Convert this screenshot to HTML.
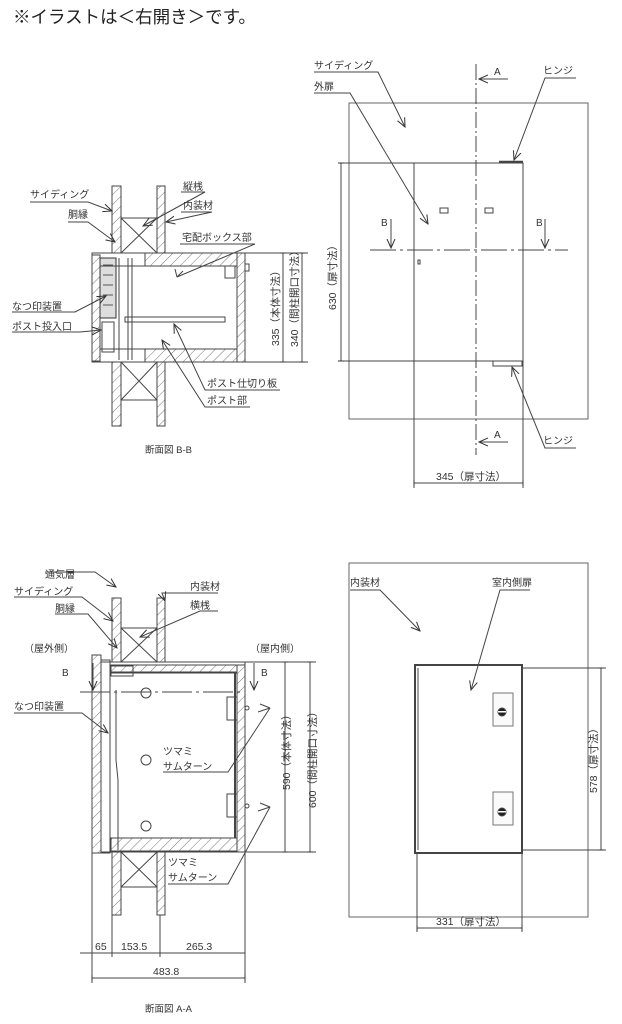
<!DOCTYPE html>
<html><head><meta charset="utf-8"><style>
html,body{margin:0;padding:0;background:#fff;}
svg{display:block}
text{font-family:"Liberation Sans","Noto Sans CJK JP",sans-serif;fill:#333;}
</style></head><body>
<svg width="622" height="1024" viewBox="0 0 622 1024" xmlns="http://www.w3.org/2000/svg">
<defs>
<pattern id="h" width="7" height="7" patternUnits="userSpaceOnUse" patternTransform="rotate(45)">
<rect width="7" height="7" fill="#fff"/><line x1="0" y1="0" x2="0" y2="7" stroke="#555" stroke-width="0.8"/></pattern>
<marker id="ar" markerWidth="10" markerHeight="10" refX="9" refY="5" orient="auto" markerUnits="userSpaceOnUse"><path d="M0,1 L9,5 L0,9" fill="none" stroke="#333" stroke-width="1"/></marker>
<marker id="tk" markerWidth="6" markerHeight="6" refX="3" refY="3" orient="auto" markerUnits="userSpaceOnUse"><line x1="3" y1="0" x2="3" y2="6" stroke="#333" stroke-width="1"/></marker>
</defs>
<text x="13" y="23" font-size="17.5" style="fill:#222">※イラストは＜右開き＞です。</text>

<g stroke="#444" stroke-width="1" fill="none" font-size="10">
<!-- ===== B-B section ===== -->
<rect x="112" y="186" width="9" height="240" fill="url(#h)"/>
<rect x="157" y="186" width="8" height="240" fill="url(#h)"/>
<rect x="121" y="218" width="36" height="35"/><path d="M121,218 L157,253 M157,218 L121,253"/>
<rect x="121" y="362" width="36" height="38"/><path d="M121,362 L157,400 M157,362 L121,400"/>
<rect x="92" y="253" width="153" height="109" fill="#fff"/>
<rect x="92" y="255" width="8" height="106" fill="url(#h)"/>
<rect x="145" y="253" width="92" height="13" fill="url(#h)"/>
<rect x="145" y="349" width="92" height="13" fill="url(#h)"/>
<rect x="237" y="253" width="8" height="109" fill="url(#h)"/>
<rect x="100" y="258" width="16" height="60" fill="#ddd" stroke="#333"/>
<path d="M103,265 h10 M103,275 h10 M103,285 h10 M103,295 h10 M103,305 h10" stroke="#555"/>
<rect x="102" y="322" width="12" height="30"/>
<line x1="119" y1="258" x2="119" y2="360"/><line x1="128" y1="258" x2="128" y2="360"/><line x1="132" y1="258" x2="132" y2="360"/>
<line x1="100" y1="266" x2="237" y2="266"/><line x1="100" y1="349" x2="237" y2="349"/>
<rect x="125" y="317" width="100" height="5"/>
<rect x="225" y="266" width="10" height="12"/>
<rect x="245" y="264" width="4" height="7"/>
<path d="M245,253 H308 M245,362 H308"/>
<line x1="283" y1="253" x2="283" y2="362" marker-start="url(#tk)" marker-end="url(#tk)"/>
<line x1="302" y1="253" x2="302" y2="362" marker-start="url(#tk)" marker-end="url(#tk)"/>
<path d="M30,202 H88 L112,211" marker-end="url(#ar)"/>
<path d="M68,222 H88 L115,242" marker-end="url(#ar)"/>
<path d="M181,192 H205 L143,226" marker-end="url(#ar)"/>
<path d="M181,212 H212 L166,222" marker-end="url(#ar)"/>
<path d="M180,244 H255 L177,277"/>
<path d="M12,312 H75 L106,296" marker-end="url(#ar)"/>
<path d="M12,332 H80 L101,330" marker-end="url(#ar)"/>
<path d="M280,390 H205 L174,324" marker-end="url(#ar)"/>
<path d="M250,407 H205 L162,340" marker-end="url(#ar)"/>
<path d="M177,277 l-2,-8 M177,277 l6,-6"/>
</g>
<g font-size="10">
<text x="30" y="198">サイディング</text><text x="68" y="218">胴縁</text>
<text x="183" y="190">縦桟</text><text x="183" y="209">内装材</text>
<text x="182" y="241">宅配ボックス部</text>
<text x="12" y="310">なつ印装置</text><text x="12" y="330">ポスト投入口</text>
<text x="207" y="387">ポスト仕切り板</text><text x="207" y="404">ポスト部</text>
<text x="145" y="453" font-size="9.5">断面図 B-B</text>
<text transform="translate(279,346) rotate(-90)" font-size="10.5">335（本体寸法）</text>
<text transform="translate(298,347) rotate(-90)" font-size="10.5">340（間柱開口寸法）</text>
</g>

<!-- ===== top-right elevation ===== -->
<g stroke="#444" stroke-width="1" fill="none">
<rect x="349" y="103" width="239" height="316" stroke="#666"/>
<rect x="414" y="163" width="109" height="198" fill="#fff"/>
<line x1="499" y1="162" x2="523" y2="162" stroke-width="2.5"/>
<rect x="493" y="361" width="29" height="5"/>
<path d="M476,64 V455" stroke-dasharray="16,3,2,3"/>
<path d="M370,250 H568" stroke-dasharray="26,4,3,4"/>
<line x1="508" y1="79" x2="479" y2="79" marker-end="url(#ar)"/>
<line x1="508" y1="442" x2="479" y2="442" marker-end="url(#ar)"/>
<line x1="391" y1="219" x2="391" y2="248" marker-end="url(#ar)"/>
<line x1="545" y1="219" x2="545" y2="248" marker-end="url(#ar)"/>
<rect x="440" y="208" width="8" height="5"/><rect x="485" y="208" width="8" height="5"/>
<rect x="418" y="260" width="2" height="4"/>
<path d="M338,163 H414 M338,361 H414"/>
<line x1="341" y1="163" x2="341" y2="361" marker-start="url(#tk)" marker-end="url(#tk)"/>
<path d="M414,361 V488 M523,361 V488"/>
<line x1="414" y1="483" x2="523" y2="483" marker-start="url(#tk)" marker-end="url(#tk)"/>
<path d="M314,72 H378 L405,127" marker-end="url(#ar)"/>
<path d="M314,93 H350 L428,224" marker-end="url(#ar)"/>
<path d="M576,78 H545 L514,160" marker-end="url(#ar)"/>
<path d="M576,448 H545 L512,367" marker-end="url(#ar)"/>
</g>
<g font-size="10">
<text x="314" y="69">サイディング</text><text x="314" y="90">外扉</text>
<text x="543" y="74">ヒンジ</text><text x="543" y="444">ヒンジ</text>
<text x="494" y="75">A</text><text x="494" y="438">A</text>
<text x="381" y="226">B</text><text x="536" y="226">B</text>
<text transform="translate(336,310) rotate(-90)" font-size="10.5">630（扉寸法）</text>
<text x="436" y="480" font-size="10.5">345（扉寸法）</text>
</g>

<!-- ===== A-A section ===== -->
<g stroke="#444" stroke-width="1" fill="none">
<rect x="112" y="598" width="9" height="317" fill="url(#h)"/>
<rect x="157" y="598" width="8" height="317" fill="url(#h)"/>
<rect x="121" y="628" width="36" height="34"/><path d="M121,628 L157,662 M157,628 L121,662"/>
<rect x="121" y="852" width="36" height="35"/><path d="M121,852 L157,887 M157,852 L121,887"/>
<rect x="92" y="662" width="153" height="190" fill="#fff"/>
<rect x="92" y="655" width="9" height="198" fill="url(#h)"/>
<rect x="101" y="660" width="9" height="193"/>
<rect x="111" y="665" width="127" height="8" fill="url(#h)"/>
<rect x="111" y="838" width="127" height="13" fill="url(#h)"/>
<rect x="237" y="665" width="8" height="187" fill="url(#h)"/>
<line x1="235" y1="673" x2="235" y2="838" stroke-width="2"/>
<path d="M110,672 H237 M110,838 H237"/>
<path d="M110,690 V850 M116,690 V760 L118,780 V850"/>
<rect x="111" y="666" width="22" height="10"/>
<circle cx="146" cy="693" r="5"/><circle cx="146" cy="760" r="5"/><circle cx="146" cy="826" r="5"/>
<path d="M80,692 H243" stroke-dasharray="30,4,3,4"/>
<rect x="227" y="697" width="10" height="23"/><rect x="227" y="794" width="10" height="23"/>
<line x1="93" y1="663" x2="93" y2="690" marker-end="url(#ar)"/>
<line x1="254" y1="663" x2="254" y2="690" marker-end="url(#ar)"/>
<path d="M245,662 H316 M245,852 H316"/>
<line x1="285" y1="662" x2="285" y2="852" marker-start="url(#tk)" marker-end="url(#tk)"/>
<line x1="310" y1="662" x2="310" y2="852" marker-start="url(#tk)" marker-end="url(#tk)"/>
<path d="M92,853 V983 M112,915 V957 M160,915 V957 M245,852 V983"/>
<line x1="80" y1="953" x2="245" y2="953"/>
<path d="M112,950 V956 M160,950 V956 M92,950 V956 M245,950 V956"/>
<line x1="92" y1="978" x2="245" y2="978" marker-start="url(#tk)" marker-end="url(#tk)"/>
<path d="M45,572 H95 L116,587" marker-end="url(#ar)"/>
<path d="M14,597 H82 L113,621" marker-end="url(#ar)"/>
<path d="M55,614 H88 L117,648" marker-end="url(#ar)"/>
<path d="M218,593 H162 L165,601" marker-end="url(#ar)"/>
<path d="M218,611 H200 L140,637" marker-end="url(#ar)"/>
<path d="M14,713 H82 L108,733" marker-end="url(#ar)"/>
<path d="M163,772 H228 L270,708"/><path d="M258,712 L270,708 M260,704 L270,708"/>
<path d="M168,884 H228 L270,807"/><path d="M258,811 L270,807 M260,803 L270,807"/>
<circle cx="247" cy="708" r="2"/><circle cx="247" cy="806" r="2"/>
</g>
<g font-size="10">
<text x="45" y="578">通気層</text><text x="14" y="595">サイディング</text><text x="55" y="612">胴縁</text>
<text x="190" y="590">内装材</text><text x="190" y="609">横桟</text>
<text x="24" y="652">（屋外側）</text><text x="250" y="652">（屋内側）</text>
<text x="62" y="676">B</text><text x="261" y="676">B</text>
<text x="14" y="710">なつ印装置</text>
<text x="163" y="755">ツマミ</text><text x="163" y="770">サムターン</text>
<text x="168" y="866">ツマミ</text><text x="168" y="881">サムターン</text>
<text transform="translate(290,790) rotate(-90)" font-size="10.5">590（本体寸法）</text>
<text transform="translate(316,808) rotate(-90)" font-size="10.5">600（間柱開口寸法）</text>
<text x="95" y="950" font-size="10.5">65</text><text x="121" y="950" font-size="10.5">153.5</text>
<text x="186" y="950" font-size="10.5">265.3</text><text x="153" y="975" font-size="10.5">483.8</text>
<text x="145" y="1012" font-size="9.5">断面図 A-A</text>
</g>

<!-- ===== bottom-right elevation ===== -->
<g stroke="#444" stroke-width="1" fill="none">
<rect x="349" y="563" width="239" height="354" stroke="#666"/>
<rect x="415" y="665" width="107" height="188" fill="#fff" stroke-width="2"/>
<line x1="418" y1="668" x2="418" y2="850"/>
<rect x="493" y="693" width="20" height="33" fill="#fafafa" stroke="#777"/>
<rect x="493" y="792" width="20" height="33" fill="#fafafa" stroke="#777"/>
<circle cx="502" cy="712" r="4" fill="#222"/><circle cx="502" cy="812" r="4" fill="#222"/>
<path d="M522,668 H606 M522,850 H606 M417,853 V932 M522,853 V932"/>
<line x1="601" y1="668" x2="601" y2="850" marker-start="url(#tk)" marker-end="url(#tk)"/>
<line x1="417" y1="928" x2="522" y2="928" marker-start="url(#tk)" marker-end="url(#tk)"/>
<path d="M350,590 H380 L420,631" marker-end="url(#ar)"/>
<path d="M530,590 H500 L471,690" marker-end="url(#ar)"/>
</g>
<g font-size="10">
<text x="350" y="586">内装材</text><text x="492" y="586">室内側扉</text>
<text transform="translate(597,793) rotate(-90)" font-size="10.5">578（扉寸法）</text>
<text x="436" y="925" font-size="10.5">331（扉寸法）</text>
</g>
<g fill="#fff"><rect x="498" y="711" width="8" height="1.5"/><rect x="498" y="811" width="8" height="1.5"/></g>
</svg>
</body></html>
